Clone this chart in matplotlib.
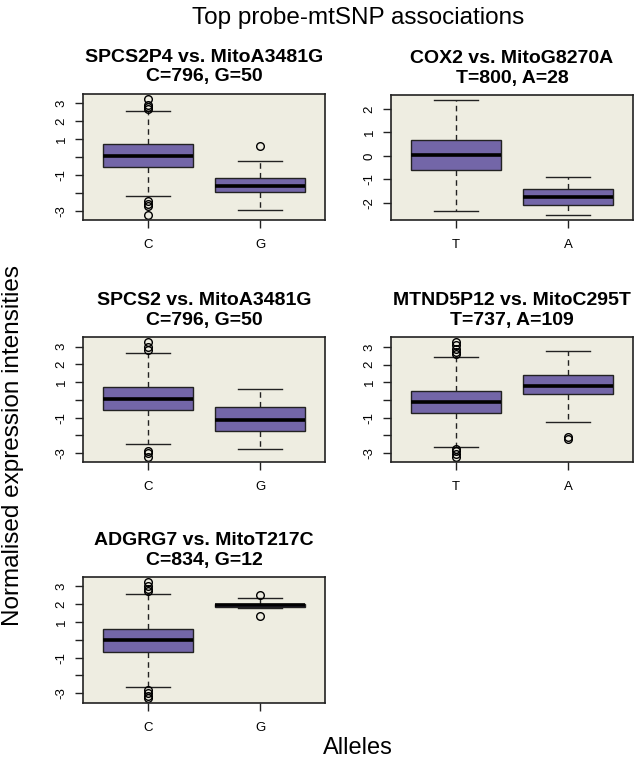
import matplotlib
matplotlib.use("Agg")
import matplotlib.pyplot as plt
import numpy as np

plt.rcParams['font.family'] = ['Liberation Sans', 'DejaVu Sans']

main_title = "Top probe-mtSNP associations"
x_label = "Alleles"
y_label = "Normalised expression intensities"

panel_titles = [
    "SPCS2P4 vs. MitoA3481G\nC=796, G=50",
    "COX2 vs. MitoG8270A\nT=800, A=28",
    "SPCS2 vs. MitoA3481G\nC=796, G=50",
    "MTND5P12 vs. MitoC295T\nT=737, A=109",
    "ADGRG7 vs. MitoT217C\nC=834, G=12",
]
allele_labels = [["C", "G"], ["T", "A"], ["C", "G"], ["T", "A"], ["C", "G"]]

# per panel, per group: lower whisker, q1, median, q3, upper whisker
whislo = [[-2.16, -2.93], [-2.37, -2.54], [-2.49, -2.76], [-2.64, -1.22], [-2.66, 1.76]]
q1s    = [[-0.56, -1.97], [-0.61, -2.10], [-0.58, -1.78], [-0.75, 0.34], [-0.69, 1.82]]
meds   = [[0.06, -1.61], [0.04, -1.76], [0.075, -1.16], [-0.11, 0.82], [0.00, 1.93]]
q3s    = [[0.71, -1.18], [0.68, -1.43], [0.73, -0.39], [0.51, 1.39], [0.62, 2.02]]
whishi = [[2.57, -0.24], [2.40, -0.92], [2.64, 0.60], [2.44, 2.76], [2.55, 2.33]]
fliers = [
    [[3.26, 2.90, 2.78, 2.66, -2.46, -2.59, -2.72, -3.25], [0.60]],
    [[], []],
    [[3.28, 3.00, 2.81, -2.87, -3.02, -3.24], []],
    [[3.30, 3.09, 2.90, 2.72, 2.59, -2.76, -2.89, -3.04, -3.24], [-2.08, -2.23]],
    [[3.26, 3.00, 2.87, 2.76, -2.83, -2.96, -3.13, -3.28], [2.50, 1.35]],
]
ytick_vals = [[-3, -2, -1, 0, 1, 2, 3], [-2, -1, 0, 1, 2], [-3, -2, -1, 0, 1, 2, 3],
              [-3, -2, -1, 0, 1, 2, 3], [-3, -2, -1, 0, 1, 2, 3]]
ytick_labels = [["-3", "", "-1", "", "1", "2", "3"], ["-2", "-1", "0", "1", "2"],
                ["-3", "", "-1", "", "1", "2", "3"], ["-3", "", "-1", "", "1", "2", "3"],
                ["-3", "", "-1", "", "1", "2", "3"]]

W, H = 640, 763
fig = plt.figure(figsize=(W / 100, H / 100), dpi=100)
fig.patch.set_facecolor('white')

# axes boxes in pixels: left, top, right, bottom
boxes_px = [(83, 94, 325, 220), (391, 95, 633, 220), (83, 337, 325, 462),
            (391, 337, 633, 462), (83, 577, 325, 703)]

bg = '#EEEDE1'
fill = '#7366A8'

for i, (l, t, r, b) in enumerate(boxes_px):
    ax = fig.add_axes([l / W, 1 - b / H, (r - l) / W, (b - t) / H])
    ax.set_facecolor(bg)
    stats = []
    for g in range(2):
        stats.append(dict(whislo=whislo[i][g], q1=q1s[i][g], med=meds[i][g],
                          q3=q3s[i][g], whishi=whishi[i][g], fliers=fliers[i][g]))
    ax.bxp(stats, positions=[1, 2], widths=0.8, patch_artist=True,
           boxprops=dict(facecolor=fill, edgecolor='#222222', linewidth=1.0),
           medianprops=dict(color='black', linewidth=2.6, solid_capstyle='butt'),
           whiskerprops=dict(color='#222222', linewidth=1.0, linestyle=(0, (4, 3))),
           capprops=dict(color='#222222', linewidth=1.0),
           capwidths=0.4,
           flierprops=dict(marker='o', markersize=5.5, markerfacecolor='none',
                           markeredgecolor='black', markeredgewidth=1.0))
    allv = []
    for g in range(2):
        allv += [whislo[i][g], whishi[i][g]] + fliers[i][g]
    lo, hi = min(allv), max(allv)
    pad = 0.04 * (hi - lo)
    ax.set_ylim(lo - pad, hi + pad)
    ax.set_xlim(0.42, 2.58)
    ax.set_xticks([1, 2])
    ax.set_xticklabels(allele_labels[i], fontsize=9.5)
    ax.set_yticks(ytick_vals[i])
    ax.set_yticklabels(ytick_labels[i], fontsize=9.5, rotation=90, va='center')
    ax.tick_params(axis='both', direction='out', length=6, width=1.0,
                   color='#222222')
    ax.tick_params(axis='x', pad=8)
    ax.tick_params(axis='y', pad=5)
    for s in ax.spines.values():
        s.set_linewidth(1.2)
        s.set_color('#222222')
    ax.set_title(panel_titles[i], fontsize=14, fontweight='bold', pad=9,
                 linespacing=1.2)

fig.text(358 / W, 1 - 18 / H, main_title, fontsize=17.5, ha='center', va='center')
fig.text(358 / W, 1 - 748 / H, x_label, fontsize=17, ha='center', va='center')
fig.text(13 / W, 1 - 445 / H, y_label, fontsize=17.5, ha='center', va='center',
         rotation=90)

fig.savefig('out.png', dpi=100, facecolor='white')
